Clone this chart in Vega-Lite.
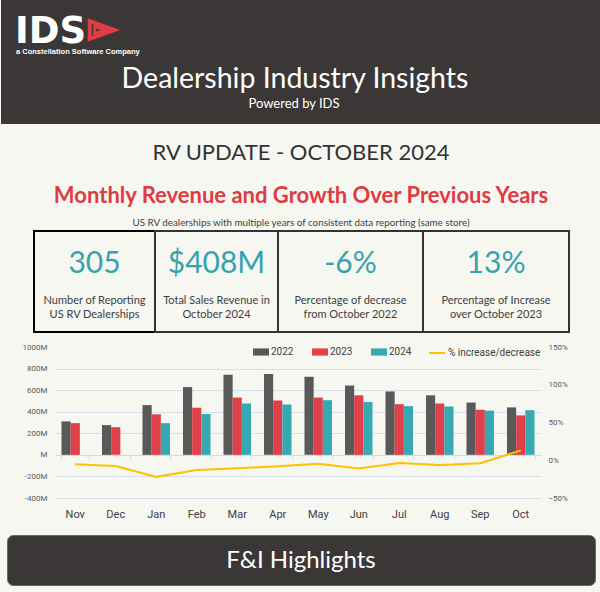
{
  "$schema": "https://vega.github.io/schema/vega-lite/v6.json",
  "background": "#f7f7f2",
  "padding": 0,
  "spacing": 0,
  "bounds": "full",
  "config": {"view": {"stroke": null}, "font": "Lato", "concat": {"spacing": 0}},
  "datasets": {
    "revenue": [
      {"month": "Nov", "year": "2022", "revenue": 310}, {"month": "Nov", "year": "2023", "revenue": 294},
      {"month": "Dec", "year": "2022", "revenue": 276}, {"month": "Dec", "year": "2023", "revenue": 255},
      {"month": "Jan", "year": "2022", "revenue": 461}, {"month": "Jan", "year": "2023", "revenue": 376}, {"month": "Jan", "year": "2024", "revenue": 294},
      {"month": "Feb", "year": "2022", "revenue": 628}, {"month": "Feb", "year": "2023", "revenue": 437}, {"month": "Feb", "year": "2024", "revenue": 379},
      {"month": "Mar", "year": "2022", "revenue": 743}, {"month": "Mar", "year": "2023", "revenue": 531}, {"month": "Mar", "year": "2024", "revenue": 476},
      {"month": "Apr", "year": "2022", "revenue": 750}, {"month": "Apr", "year": "2023", "revenue": 504}, {"month": "Apr", "year": "2024", "revenue": 467},
      {"month": "May", "year": "2022", "revenue": 725}, {"month": "May", "year": "2023", "revenue": 531}, {"month": "May", "year": "2024", "revenue": 507},
      {"month": "Jun", "year": "2022", "revenue": 643}, {"month": "Jun", "year": "2023", "revenue": 552}, {"month": "Jun", "year": "2024", "revenue": 491},
      {"month": "Jul", "year": "2022", "revenue": 588}, {"month": "Jul", "year": "2023", "revenue": 470}, {"month": "Jul", "year": "2024", "revenue": 452},
      {"month": "Aug", "year": "2022", "revenue": 552}, {"month": "Aug", "year": "2023", "revenue": 476}, {"month": "Aug", "year": "2024", "revenue": 449},
      {"month": "Sep", "year": "2022", "revenue": 485}, {"month": "Sep", "year": "2023", "revenue": 418}, {"month": "Sep", "year": "2024", "revenue": 410},
      {"month": "Oct", "year": "2022", "revenue": 440}, {"month": "Oct", "year": "2023", "revenue": 366}, {"month": "Oct", "year": "2024", "revenue": 414}
    ],
    "growth": [
      {"month": "Nov", "pct": -0.053}, {"month": "Dec", "pct": -0.075}, {"month": "Jan", "pct": -0.22},
      {"month": "Feb", "pct": -0.13}, {"month": "Mar", "pct": -0.105}, {"month": "Apr", "pct": -0.08},
      {"month": "May", "pct": -0.045}, {"month": "Jun", "pct": -0.11}, {"month": "Jul", "pct": -0.035},
      {"month": "Aug", "pct": -0.063}, {"month": "Sep", "pct": -0.04}, {"month": "Oct", "pct": 0.13}
    ]
  },
  "vconcat": [
    {
      "width": 600, "height": 124,
      "view": {"fill": "#3b3736", "stroke": null},
      "layer": [
        {"data": {"values": [{"t": "IDS"}]}, "mark": {"type": "text", "x": 14, "y": 43, "align": "left", "baseline": "alphabetic", "font": "DejaVu Sans", "fontWeight": "bold", "fontSize": 37, "fill": "#ffffff", "letterSpacing": -1.5}, "encoding": {"text": {"field": "t"}}},
        {"data": {"values": [{"t": "logo"}]}, "mark": {"type": "point", "shape": "M-1,-0.72L1,0L-1,0.72Z", "x": 101, "y": 30, "size": 600, "filled": false, "stroke": "#e23b41", "strokeWidth": 4, "opacity": 1}},
        {"data": {"values": [{"t": "logo"}]}, "mark": {"type": "point", "shape": "M-1,-0.72L1,0L-1,0.72Z", "x": 99, "y": 30, "size": 110, "filled": false, "stroke": "#e23b41", "strokeWidth": 3, "opacity": 1}},
        {"data": {"values": [{"t": "a Constellation Software Company"}]}, "mark": {"type": "text", "x": 15, "y": 53.5, "align": "left", "baseline": "alphabetic", "font": "Liberation Sans", "fontWeight": "bold", "fontSize": 7.5, "fill": "#ffffff"}, "encoding": {"text": {"field": "t"}}},
        {"data": {"values": [{"t": "Dealership Industry Insights"}]}, "mark": {"type": "text", "x": 294, "y": 88, "align": "center", "baseline": "alphabetic", "fontSize": 28.5, "fill": "#ffffff"}, "encoding": {"text": {"field": "t"}}},
        {"data": {"values": [{"t": "Powered by IDS"}]}, "mark": {"type": "text", "x": 293, "y": 108, "align": "center", "baseline": "alphabetic", "fontSize": 13, "fill": "#ffffff"}, "encoding": {"text": {"field": "t"}}}
      ]
    },
    {
      "width": 600, "height": 105,
      "layer": [
        {"data": {"values": [{"t": "RV UPDATE - OCTOBER 2024"}]}, "mark": {"type": "text", "x": 300, "y": 35, "align": "center", "baseline": "alphabetic", "fontSize": 22, "letterSpacing": 0.8, "fill": "#333333"}, "encoding": {"text": {"field": "t"}}},
        {"data": {"values": [{"t": "line"}]}, "mark": {"type": "rule", "x": 47, "x2": 555, "y": 46, "stroke": "#8a8a8a", "strokeDash": [1, 2], "strokeWidth": 1}, "encoding": {}},
        {"data": {"values": [{"t": "Monthly Revenue and Growth Over Previous Years"}]}, "mark": {"type": "text", "x": 300, "y": 78, "align": "center", "baseline": "alphabetic", "fontSize": 22, "fontWeight": "bold", "fill": "#df3b43"}, "encoding": {"text": {"field": "t"}}},
        {"data": {"values": [{"t": "US RV dealerships with multiple years of consistent data reporting (same store)"}]}, "mark": {"type": "text", "x": 300, "y": 101, "align": "center", "baseline": "alphabetic", "fontSize": 9.8, "fill": "#404040"}, "encoding": {"text": {"field": "t"}}}
      ]
    },
    {
      "hconcat": [
        {"width": 33, "height": 101, "data": {"values": []}, "mark": "point"},
        {
          "width": 121, "height": 101, "view": {"stroke": "#000000", "strokeWidth": 2},
          "data": {"values": [{"value": "305", "label": "Number of Reporting|US RV Dealerships"}]},
          "layer": [
            {"mark": {"type": "text", "x": 60.5, "y": 42, "align": "center", "baseline": "alphabetic", "fontSize": 30, "fill": "#36a3ac"}, "encoding": {"text": {"field": "value"}}},
            {"mark": {"type": "text", "x": 60.5, "y": 73, "align": "center", "baseline": "alphabetic", "fontSize": 11, "lineBreak": "|", "lineHeight": 14, "fill": "#404040"}, "encoding": {"text": {"field": "label"}}}
          ]
        },
        {
          "width": 123, "height": 101, "view": {"stroke": "#333333", "strokeWidth": 2},
          "data": {"values": [{"value": "$408M", "label": "Total Sales Revenue in|October 2024"}]},
          "layer": [
            {"mark": {"type": "text", "x": 61.5, "y": 42, "align": "center", "baseline": "alphabetic", "fontSize": 30, "fill": "#36a3ac"}, "encoding": {"text": {"field": "value"}}},
            {"mark": {"type": "text", "x": 61.5, "y": 73, "align": "center", "baseline": "alphabetic", "fontSize": 11, "lineBreak": "|", "lineHeight": 14, "fill": "#404040"}, "encoding": {"text": {"field": "label"}}}
          ]
        },
        {
          "width": 145, "height": 101, "view": {"stroke": "#333333", "strokeWidth": 2},
          "data": {"values": [{"value": "-6%", "label": "Percentage of decrease|from October 2022"}]},
          "layer": [
            {"mark": {"type": "text", "x": 72.5, "y": 42, "align": "center", "baseline": "alphabetic", "fontSize": 30, "fill": "#36a3ac"}, "encoding": {"text": {"field": "value"}}},
            {"mark": {"type": "text", "x": 72.5, "y": 73, "align": "center", "baseline": "alphabetic", "fontSize": 11, "lineBreak": "|", "lineHeight": 14, "fill": "#404040"}, "encoding": {"text": {"field": "label"}}}
          ]
        },
        {
          "width": 146, "height": 101, "view": {"stroke": "#333333", "strokeWidth": 2},
          "data": {"values": [{"value": "13%", "label": "Percentage of Increase|over October 2023"}]},
          "layer": [
            {"mark": {"type": "text", "x": 73, "y": 42, "align": "center", "baseline": "alphabetic", "fontSize": 30, "fill": "#36a3ac"}, "encoding": {"text": {"field": "value"}}},
            {"mark": {"type": "text", "x": 73, "y": 73, "align": "center", "baseline": "alphabetic", "fontSize": 11, "lineBreak": "|", "lineHeight": 14, "fill": "#404040"}, "encoding": {"text": {"field": "label"}}}
          ]
        }
      ],
      "spacing": 0,
      "bounds": "flush"
    },
    {"width": 600, "height": 10, "data": {"values": []}, "mark": "point"},
    {
      "hconcat": [
        {"width": 54, "height": 151, "data": {"values": []}, "mark": "point"},
        {
          "width": 486, "height": 151,
          "layer": [
            {
              "data": {"name": "revenue"},
              "mark": {"type": "bar"},
              "encoding": {
                "x": {"field": "month", "type": "nominal", "sort": ["Nov","Dec","Jan","Feb","Mar","Apr","May","Jun","Jul","Aug","Sep","Oct"], "scale": {"paddingInner": 0.32, "paddingOuter": 0.16}, "axis": {"orient": "bottom", "title": null, "domain": false, "ticks": false, "labelFont": "Roboto", "labelFontSize": 11, "labelColor": "#404040", "labelPadding": 10, "labelAngle": 0, "grid": false}},
                "xOffset": {"field": "year", "type": "nominal", "scale": {"domain": ["2022","2023","2024"], "paddingInner": 0, "paddingOuter": 0}},
                "y": {"field": "revenue", "type": "quantitative", "scale": {"domain": [-400, 1000], "nice": false}, "axis": {"orient": "left", "title": null, "values": [-400,-200,0,200,400,600,800,1000], "labelExpr": "datum.value === 0 ? 'M' : datum.value + 'M'", "domain": false, "ticks": false, "grid": true, "gridColor": {"condition": {"test": "datum.value === 1000", "value": "transparent"}, "value": "#d9dfea"}, "labelFont": "Roboto", "labelFontSize": 8, "labelColor": "#595959", "labelPadding": 8}},
                "color": {"field": "year", "type": "nominal", "scale": {"domain": ["2022","2023","2024"], "range": ["#595959","#df4049","#37a9b2"]}, "legend": {"orient": "none", "legendX": 252, "legendY": 344, "direction": "horizontal", "title": null, "symbolType": "M-1,-0.45H1V0.45H-1Z", "symbolSize": 256, "symbolStrokeWidth": 0, "labelFont": "Roboto", "labelFontSize": 10, "labelColor": "#404040", "labelOffset": 2, "columnPadding": 18}}
              }
            },
            {
              "data": {"name": "growth"},
              "mark": {"type": "line", "strokeWidth": 2},
              "encoding": {
                "x": {"field": "month", "type": "nominal", "sort": ["Nov","Dec","Jan","Feb","Mar","Apr","May","Jun","Jul","Aug","Sep","Oct"], "axis": {"orient": "bottom", "offset": -43, "labels": false, "title": null, "domain": true, "domainColor": "#d9d9d9", "ticks": true, "tickBand": "extent", "tickColor": "#d9d9d9", "tickSize": 4, "grid": false}},
                "y": {"field": "pct", "type": "quantitative", "scale": {"domain": [-0.5, 1.5], "nice": false}, "axis": {"orient": "right", "title": null, "values": [-0.5, 0, 0.5, 1, 1.5], "format": ".0%", "grid": false, "domain": false, "ticks": false, "labelFont": "Roboto", "labelFontSize": 8, "labelColor": "#595959", "labelPadding": 7}},
                "stroke": {"datum": "% increase/decrease", "type": "nominal", "scale": {"range": ["#ffc000"]}, "legend": {"orient": "none", "legendX": 427, "legendY": 344, "title": null, "symbolType": "stroke", "symbolSize": 256, "symbolStrokeWidth": 2, "labelFont": "Roboto", "labelFontSize": 10, "labelColor": "#404040", "labelOffset": 2}}
              }
            }
          ],
          "resolve": {"scale": {"y": "independent"}, "axis": {"x": "independent"}}
        }
      ],
      "spacing": 0,
      "bounds": "flush"
    },
    {"width": 600, "height": 15, "data": {"values": []}, "mark": "point"},
    {
      "hconcat": [
        {"width": 6, "height": 50, "data": {"values": []}, "mark": "point"},
        {
          "width": 588, "height": 50, "view": {"fill": "#3b3736", "stroke": "#6a6866", "cornerRadius": 6},
          "data": {"values": [{"t": "F&I Highlights"}]},
          "mark": {"type": "text", "x": 294, "y": 33, "align": "center", "baseline": "alphabetic", "fontSize": 24, "letterSpacing": 0.9, "fill": "#ffffff"},
          "encoding": {"text": {"field": "t"}}
        }
      ],
      "spacing": 0,
      "bounds": "flush"
    },
    {"width": 600, "height": 9, "data": {"values": []}, "mark": "point"}
  ]
}
